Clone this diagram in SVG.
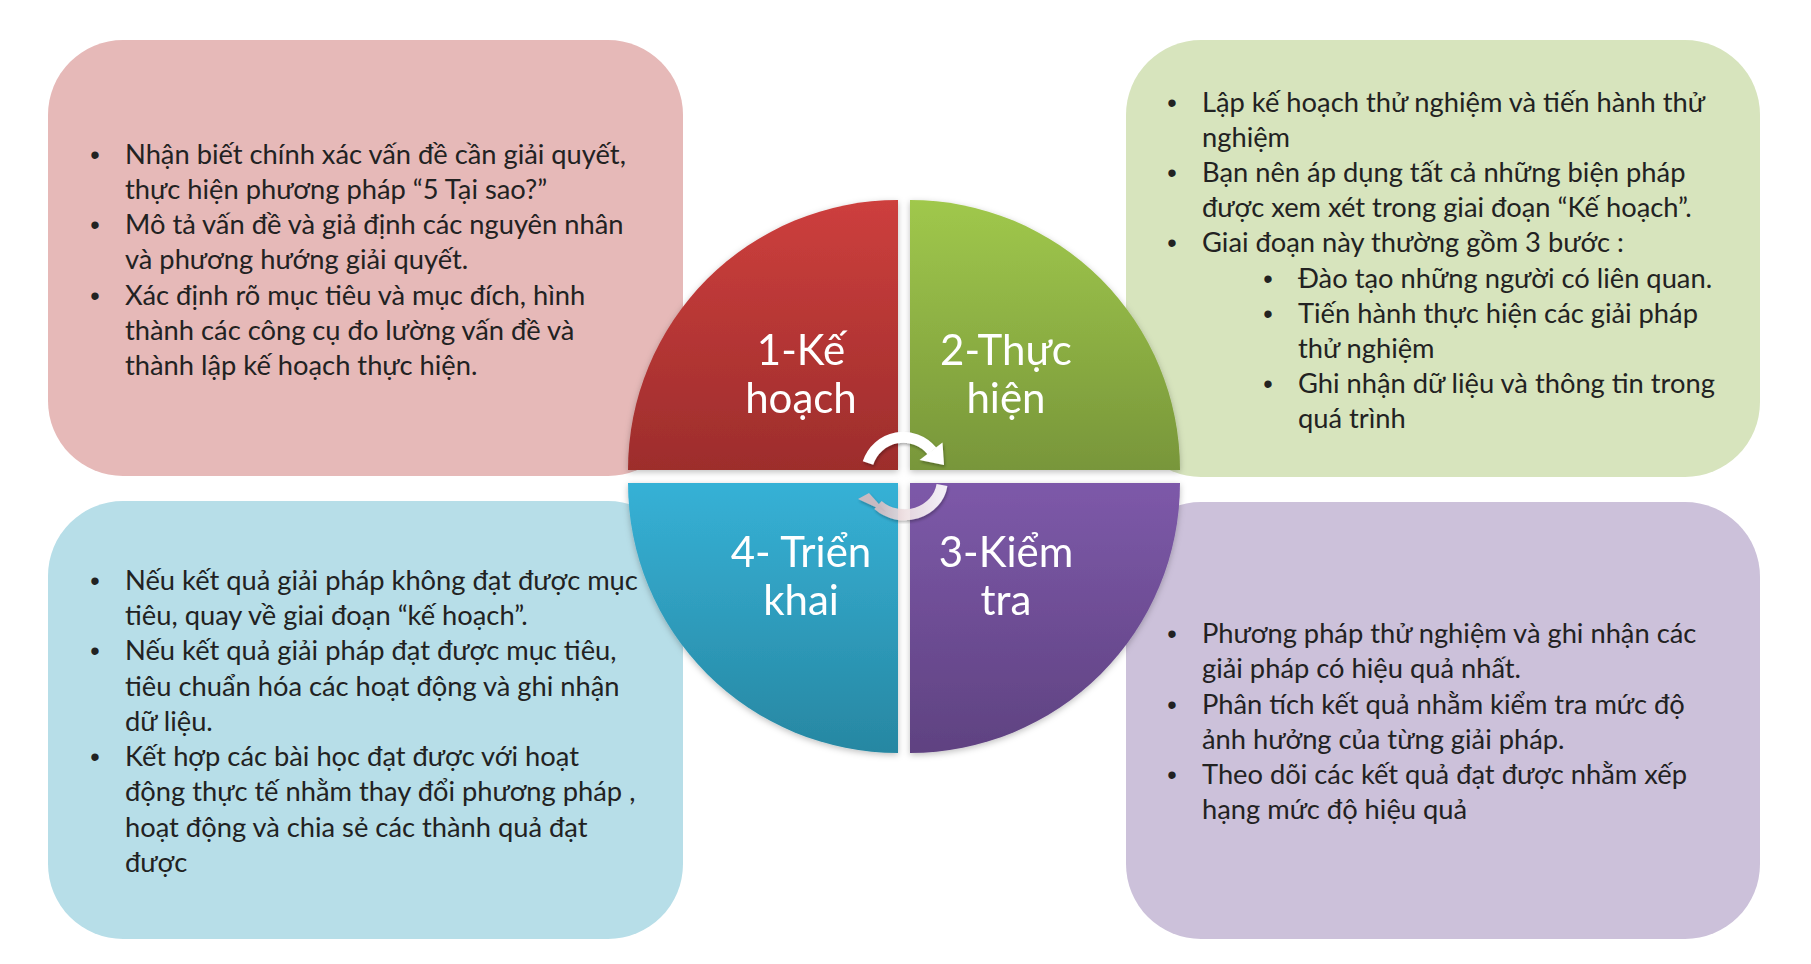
<svg xmlns="http://www.w3.org/2000/svg" width="1811" height="964" viewBox="0 0 1811 964">
<defs>
<style>
.box-text{font-family:Lato,"Liberation Sans",sans-serif;font-size:27.3px;fill:#222222;}
.bul{font-family:"Liberation Sans",sans-serif;font-size:27px;fill:#222222;text-anchor:middle;}
.lbl{font-family:Lato,"Liberation Sans",sans-serif;font-size:42px;fill:#ffffff;text-anchor:middle;}
</style>
<linearGradient id="gRed" x1="0" y1="0" x2="0" y2="1"><stop offset="0" stop-color="#CD3F3D"/><stop offset="1" stop-color="#9D2D2C"/></linearGradient>
<linearGradient id="gGreen" x1="0" y1="0" x2="0" y2="1"><stop offset="0" stop-color="#A0C84C"/><stop offset="1" stop-color="#78963A"/></linearGradient>
<linearGradient id="gBlue" x1="0" y1="0" x2="0" y2="1"><stop offset="0" stop-color="#36B1D6"/><stop offset="1" stop-color="#2787A2"/></linearGradient>
<linearGradient id="gPurple" x1="0" y1="0" x2="0" y2="1"><stop offset="0" stop-color="#7D59A9"/><stop offset="1" stop-color="#5F4281"/></linearGradient>
<linearGradient id="gArrow2" x1="1" y1="0" x2="0" y2="0"><stop offset="0" stop-color="#ffffff"/><stop offset="0.5" stop-color="#f2e6e8"/><stop offset="1" stop-color="#d8bcc0"/></linearGradient>
<filter id="sh" x="-10%" y="-10%" width="120%" height="120%"><feDropShadow dx="0" dy="2" stdDeviation="3" flood-color="#000" flood-opacity="0.25"/></filter>
<filter id="ash" x="-30%" y="-30%" width="160%" height="160%"><feDropShadow dx="1" dy="2" stdDeviation="1.5" flood-color="#000" flood-opacity="0.3"/></filter>
</defs>
<rect width="1811" height="964" fill="#ffffff"/>

<g id="box-plan">
<rect x="48" y="40" width="635" height="436" rx="75" ry="75" fill="#E6B9B8"/>
<text class="bul" x="95" y="163.5">•</text>
<text class="box-text" x="125" y="163.5">Nhận biết chính xác vấn đề cần giải quyết,</text>
<text class="box-text" x="125" y="198.5">thực hiện phương pháp “5 Tại sao?”</text>
<text class="bul" x="95" y="233.5">•</text>
<text class="box-text" x="125" y="233.5">Mô tả vấn đề và giả định các nguyên nhân</text>
<text class="box-text" x="125" y="268.5">và phương hướng giải quyết.</text>
<text class="bul" x="95" y="304.5">•</text>
<text class="box-text" x="125" y="304.5">Xác định rõ mục tiêu và mục đích, hình</text>
<text class="box-text" x="125" y="339.5">thành các công cụ đo lường vấn đề và</text>
<text class="box-text" x="125" y="374.5">thành lập kế hoạch thực hiện.</text>
</g>

<g id="box-do">
<rect x="1126" y="40" width="634" height="437" rx="75" ry="75" fill="#D7E4BD"/>
<text class="bul" x="1172" y="111.5">•</text>
<text class="box-text" x="1202" y="111.5">Lập kế hoạch thử nghiệm và tiến hành thử</text>
<text class="box-text" x="1202" y="146.5">nghiệm</text>
<text class="bul" x="1172" y="181.5">•</text>
<text class="box-text" x="1202" y="181.5">Bạn nên áp dụng tất cả những biện pháp</text>
<text class="box-text" x="1202" y="216.5">được xem xét trong giai đoạn “Kế hoạch”.</text>
<text class="bul" x="1172" y="251.5">•</text>
<text class="box-text" x="1202" y="251.5">Giai đoạn này thường gồm 3 bước :</text>
<text class="bul" x="1268" y="287.5">•</text>
<text class="box-text" x="1298" y="287.5">Đào tạo những người có liên quan.</text>
<text class="bul" x="1268" y="322.5">•</text>
<text class="box-text" x="1298" y="322.5">Tiến hành thực hiện các giải pháp</text>
<text class="box-text" x="1298" y="357.5">thử nghiệm</text>
<text class="bul" x="1268" y="392.5">•</text>
<text class="box-text" x="1298" y="392.5">Ghi nhận dữ liệu và thông tin trong</text>
<text class="box-text" x="1298" y="427.5">quá trình</text>
</g>

<g id="box-act">
<rect x="48" y="501" width="635" height="438" rx="75" ry="75" fill="#B7DEE8"/>
<text class="bul" x="95" y="589.5">•</text>
<text class="box-text" x="125" y="589.5">Nếu kết quả giải pháp không đạt được mục</text>
<text class="box-text" x="125" y="624.5">tiêu, quay về giai đoạn “kế hoạch”.</text>
<text class="bul" x="95" y="659.5">•</text>
<text class="box-text" x="125" y="659.5">Nếu kết quả giải pháp đạt được mục tiêu,</text>
<text class="box-text" x="125" y="695.5">tiêu chuẩn hóa các hoạt động và ghi nhận</text>
<text class="box-text" x="125" y="730.5">dữ liệu.</text>
<text class="bul" x="95" y="765.5">•</text>
<text class="box-text" x="125" y="765.5">Kết hợp các bài học đạt được với hoạt</text>
<text class="box-text" x="125" y="800.5">động thực tế nhằm thay đổi phương pháp ,</text>
<text class="box-text" x="125" y="836.5">hoạt động và chia sẻ các thành quả đạt</text>
<text class="box-text" x="125" y="871.5">được</text>
</g>

<g id="box-check">
<rect x="1126" y="502" width="634" height="437" rx="75" ry="75" fill="#CCC1DA"/>
<text class="bul" x="1172" y="642.5">•</text>
<text class="box-text" x="1202" y="642.5">Phương pháp thử nghiệm và ghi nhận các</text>
<text class="box-text" x="1202" y="677.5">giải pháp có hiệu quả nhất.</text>
<text class="bul" x="1172" y="713.5">•</text>
<text class="box-text" x="1202" y="713.5">Phân tích kết quả nhằm kiểm tra mức độ</text>
<text class="box-text" x="1202" y="748.5">ảnh hưởng của từng giải pháp.</text>
<text class="bul" x="1172" y="783.5">•</text>
<text class="box-text" x="1202" y="783.5">Theo dõi các kết quả đạt được nhằm xếp</text>
<text class="box-text" x="1202" y="818.5">hạng mức độ hiệu quả</text>
</g>

<g id="q-plan" filter="url(#sh)">
<path d="M898 470 L628 470 A270 270 0 0 1 898 200 Z" fill="url(#gRed)"/>
<text class="lbl" x="801" y="365">1-Kế</text>
<text class="lbl" x="801" y="413">hoạch</text>
</g>
<g id="q-do" filter="url(#sh)">
<path d="M910 470 L910 200 A270 270 0 0 1 1180 470 Z" fill="url(#gGreen)"/>
<text class="lbl" x="1006" y="365">2-Thực</text>
<text class="lbl" x="1006" y="413">hiện</text>
</g>
<g id="q-check" filter="url(#sh)">
<path d="M910 483 L1180 483 A270 270 0 0 1 910 753 Z" fill="url(#gPurple)"/>
<text class="lbl" x="1006" y="567">3-Kiểm</text>
<text class="lbl" x="1006" y="615">tra</text>
</g>
<g id="q-act" filter="url(#sh)">
<path d="M898 483 L898 753 A270 270 0 0 1 628 483 Z" fill="url(#gBlue)"/>
<text class="lbl" x="801" y="567">4- Triển</text>
<text class="lbl" x="801" y="615">khai</text>
</g>

<g id="connectors">
<g filter="url(#ash)">
<path d="M868 463 A37 37 0 0 1 932 451" fill="none" stroke="#ffffff" stroke-width="11"/>
<polygon points="942.5,442.5 919.5,460 944,465" fill="#ffffff"/>
</g>
<g filter="url(#ash)" opacity="0.9">
<path d="M942 485 A38 35 0 0 1 878 505" fill="none" stroke="url(#gArrow2)" stroke-width="11"/>
<polygon points="869,493 886,512 858,499" fill="#d8bcc0"/>
</g>
</g>
</svg>
